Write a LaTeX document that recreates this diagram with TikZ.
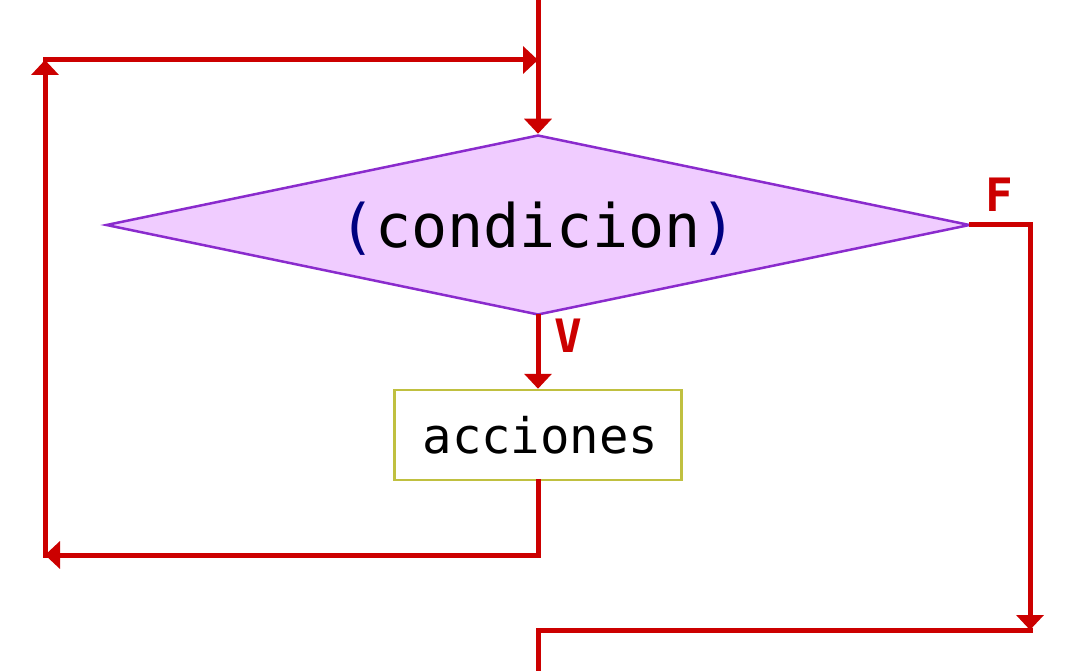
\documentclass[tikz,border=0pt]{standalone}
\usepackage{fontspec}
\newfontfamily\monofam{DejaVu Sans Mono}
\usetikzlibrary{shapes.geometric,arrows.meta}
\definecolor{flowred}{RGB}{204,0,0}
\definecolor{diafill}{RGB}{240,204,255}
\definecolor{diadraw}{RGB}{138,43,205}
\definecolor{boxdraw}{RGB}{192,192,64}
\definecolor{parcol}{RGB}{0,0,128}
\tikzset{
  flow/.style={draw=flowred,line width=5pt,line cap=rect,line join=miter},
  flowarrow/.style={flow,-{Triangle[width=27pt,length=15pt]}},
  decision/.style={diamond,draw=diadraw,fill=diafill,line width=2.5pt,inner sep=0pt,
    minimum width=864pt,minimum height=180pt,aspect=4.8,text height=55pt,text depth=10pt,
    font=\monofam\fontsize{60}{72}\selectfont},
  actionbox/.style={rectangle,draw=boxdraw,fill=white,line width=2.5pt,inner sep=0pt,
    minimum width=287pt,minimum height=90pt,font=\monofam\fontsize{49}{58}\selectfont},
  branchlabel/.style={text=flowred,font=\monofam\bfseries\fontsize{46}{55}\selectfont,inner sep=0pt}
}
\begin{document}
\begin{tikzpicture}[x=1pt,y=-1pt]
\useasboundingbox (0,0) rectangle (1090,671);
% nodes
\node[decision] (cond) at (538,225) {\textcolor{parcol}{(}condicion\textcolor{parcol}{)}};
\node[actionbox] (acc) at (538,435) {\hspace{5pt}acciones};
\node[branchlabel] (vlab) at (568,336) {V};
\node[branchlabel] (flab) at (999,195) {F};
% coordinates
\coordinate (topin) at (538,0);
\coordinate (loopTL) at (45,60);
\coordinate (loopTR) at (538,60);
\coordinate (loopBL) at (45,555);
\coordinate (loopBR) at (538,555);
\coordinate (fR) at (1030,225);
\coordinate (fB) at (1030,630);
\coordinate (outL) at (538,630);
\coordinate (outEnd) at (538,671);
% connectors
\draw[flowarrow] (topin) -- (cond.north);
\draw[flowarrow] (loopTL) -- (loopTR);
\draw[flowarrow] (loopBL) -- (loopTL);
\draw[flowarrow] (cond.south) -- (acc.north);
\draw[flow] (acc.south) -- (loopBR);
\draw[flowarrow] (loopBR) -- (loopBL);
\draw[flow] (cond.east) -- (fR);
\draw[flowarrow] (fR) -- (fB);
\draw[flow] (fB) -- (outL) -- (outEnd);
\end{tikzpicture}
\end{document}
